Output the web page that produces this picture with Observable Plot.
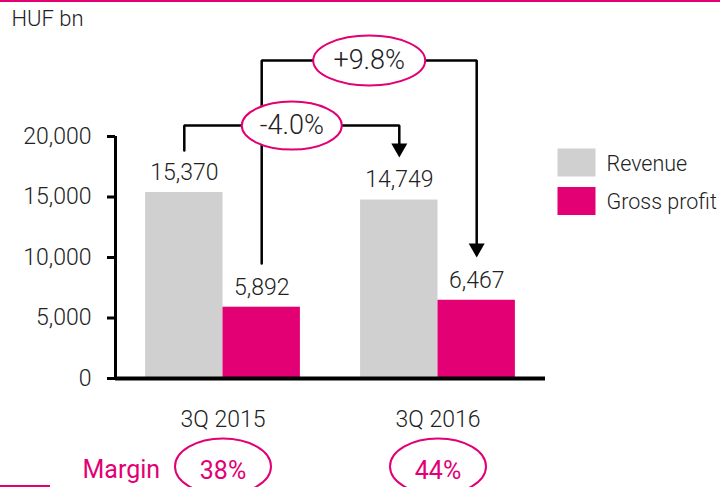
<!DOCTYPE html>
<html><head><meta charset="utf-8">
<script src="https://cdn.jsdelivr.net/npm/d3@7"></script>
<script src="https://cdn.jsdelivr.net/npm/@observablehq/plot@0.6"></script>
<style>
body{margin:0;background:#fff;}
#wrap{position:relative;width:720px;height:487px;overflow:hidden;}
.deco{position:absolute;background:#e20074;}
#wrap svg{position:absolute;left:0;top:0;}
</style></head><body>
<div id="wrap"></div>
<script>
// ---- data ----
const periods = ["3Q 2015", "3Q 2016"];
const series = ["Revenue", "Gross profit"];
const revenue = [15370, 14749];
const grossProfit = [5892, 6467];
const marginLabels = ["38%", "44%"];
const changeLabels = ["-4.0%", "+9.8%"];
const yTicks = [0, 5000, 10000, 15000, 20000];
const unitLabel = "HUF bn";
const marginTitle = "Margin";

// ---- styling / layout ----
const colors = ["#d0d0d0", "#e20074"];
const magenta = "#e20074";
const BW = 0.36; // bar width in period units
const fmt = d3.format(",");

const rows = periods.flatMap((p, i) => [
  {i, period: p, series: series[0], value: revenue[i]},
  {i, period: p, series: series[1], value: grossProfit[i]}
]);
const off = d => (d.series === series[0] ? -BW / 2 : BW / 2);

// annotation bracket levels (in value units)
const negLevel = 20900, negStart = 18840, negEnd = 18840;
const posLevel = 26280, posStart = 9500, posEnd = 10580;
const negPath = [
  {x: 0 - BW / 2, y: negStart}, {x: 0 - BW / 2, y: negLevel},
  {x: 1 - BW / 2, y: negLevel}, {x: 1 - BW / 2, y: negEnd}
];
const posPath = [
  {x: 0 + BW / 2, y: posStart}, {x: 0 + BW / 2, y: posLevel},
  {x: 1 + BW / 2, y: posLevel}, {x: 1 + BW / 2, y: posEnd}
];

const ellipse = (rx, ry) => ({
  draw(ctx) {
    const k = 0.5523;
    ctx.moveTo(rx, 0);
    ctx.bezierCurveTo(rx, k * ry, k * rx, ry, 0, ry);
    ctx.bezierCurveTo(-k * rx, ry, -rx, k * ry, -rx, 0);
    ctx.bezierCurveTo(-rx, -k * ry, -k * rx, -ry, 0, -ry);
    ctx.bezierCurveTo(k * rx, -ry, rx, -k * ry, rx, 0);
    ctx.closePath();
  }
});
const triDown = {draw(ctx) { ctx.moveTo(-8, -7); ctx.lineTo(8, -7); ctx.lineTo(0, 7); ctx.closePath(); }};
const swatch = {draw(ctx) { ctx.rect(-19, -14, 38, 28); }};

const T = {fontWeight: 300, lineAnchor: "middle"};

const chart = Plot.plot({
  width: 720,
  height: 487,
  marginLeft: 115,
  marginRight: 175,
  marginTop: 136,
  marginBottom: 109,
  style: {fontFamily: "Roboto, 'Liberation Sans', sans-serif", fontSize: "22px", color: "#222", background: "transparent", overflow: "visible"},
  x: {domain: [-0.5, 1.5], axis: null},
  y: {domain: [0, 20000], axis: null},
  color: {domain: series, range: colors},
  marks: [
    Plot.rectY(rows, {x1: d => d.i + off(d) - BW / 2, x2: d => d.i + off(d) + BW / 2, y: "value", fill: "series"}),
    Plot.text(rows, {...T, x: d => d.i + off(d), y: "value", text: d => fmt(d.value), dy: -20, fontSize: 23}),
    // y axis
    Plot.axisY({ticks: yTicks, tickFormat: fmt, tickSize: 8, tickPadding: 16, strokeWidth: 3, fontSize: 23, fontWeight: 300, stroke: "#000"}),
    Plot.ruleX([-0.5], {y1: 0, y2: 20000, strokeWidth: 3, stroke: "#000"}),
    Plot.ruleY([0], {x1: -0.5, x2: 1.5, strokeWidth: 4, stroke: "#000"}),
    // x labels
    Plot.text(periods, {...T, x: (d, i) => i, y: 0, text: d => d, dy: 41, fontSize: 23}),
    // change brackets
    Plot.line(negPath, {x: "x", y: "y", stroke: "#000", strokeWidth: 2.5, strokeLinejoin: "miter"}),
    Plot.line(posPath, {x: "x", y: "y", stroke: "#000", strokeWidth: 2.5, strokeLinejoin: "miter"}),
    Plot.dot([negPath[3], posPath[3]], {x: "x", y: "y", symbol: triDown, fill: "#000"}),
    Plot.dot([{x: 0.5 - BW / 2, y: negLevel}], {x: "x", y: "y", symbol: ellipse(50, 24), fill: "white", stroke: magenta, strokeWidth: 2}),
    Plot.dot([{x: 0.5 + BW / 2, y: posLevel}], {x: "x", y: "y", symbol: ellipse(56, 25), fill: "white", stroke: magenta, strokeWidth: 2}),
    Plot.text([{x: 0.5 - BW / 2, y: negLevel, t: changeLabels[0]}], {...T, x: "x", y: "y", text: "t", fontSize: 27}),
    Plot.text([{x: 0.5 + BW / 2, y: posLevel, t: changeLabels[1]}], {...T, x: "x", y: "y", text: "t", fontSize: 27}),
    // margin row
    Plot.dot(periods, {x: (d, i) => i, y: 0, dy: 88, symbol: ellipse(48, 28), fill: "none", stroke: magenta, strokeWidth: 2}),
    Plot.text(marginLabels, {...T, fontWeight: 400, x: (d, i) => i, y: 0, dy: 92, text: d => d, fill: magenta, fontSize: 25}),
    Plot.text([marginTitle], {...T, fontWeight: 400, frameAnchor: "bottom-left", text: d => d, dx: -33, dy: 91, textAnchor: "start", fill: magenta, fontSize: 25}),
    // unit label
    Plot.text([unitLabel], {...T, frameAnchor: "top-left", text: d => d, dx: -104, dy: -118, textAnchor: "start", fontSize: 22}),
    // legend
    Plot.dot([series[0]], {frameAnchor: "top-left", dx: 461, dy: 26, symbol: swatch, fill: d => d}),
    Plot.dot([series[1]], {frameAnchor: "top-left", dx: 461, dy: 64.5, symbol: swatch, fill: d => d}),
    Plot.text([series[0]], {...T, frameAnchor: "top-left", dx: 491, dy: 28, text: d => d, textAnchor: "start", fontSize: 21.5}),
    Plot.text([series[1]], {...T, frameAnchor: "top-left", dx: 491, dy: 65.5, text: d => d, textAnchor: "start", fontSize: 21.5})
  ]
});
const wrap = document.getElementById("wrap");
wrap.appendChild(chart);
const topLine = document.createElement("div"); topLine.className = "deco"; topLine.style.cssText = "left:0;top:0;width:720px;height:2px";
const botLine = document.createElement("div"); botLine.className = "deco"; botLine.style.cssText = "left:0;top:485px;width:50px;height:2px";
wrap.appendChild(topLine); wrap.appendChild(botLine);
</script>
</body></html>
